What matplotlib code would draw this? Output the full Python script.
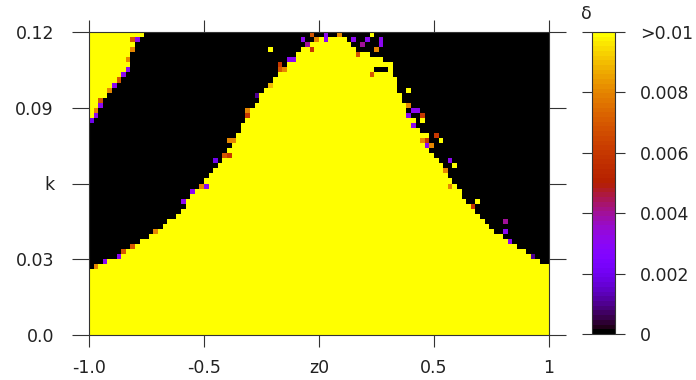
import numpy as np
import matplotlib
matplotlib.use('Agg')
import matplotlib.pyplot as plt
from matplotlib.colors import ListedColormap, Normalize

# ---- data ----
# upper boundary (k) of the big yellow hump, as function of z0
hump_z = [-1.0, -0.952, -0.878, -0.809, -0.748, -0.661, -0.604, -0.548, -0.496, -0.483,
          -0.430, -0.374, -0.330, -0.270, -0.213, -0.157, -0.126, -0.070, -0.026, 0.017,
          0.06, 0.10, 0.148, 0.209, 0.252, 0.309, 0.339, 0.352, 0.383, 0.426, 0.483,
          0.539, 0.600, 0.657, 0.743, 0.830, 0.904, 0.961, 1.0]
hump_k = [0.026, 0.0277, 0.0305, 0.0345, 0.0388, 0.0448, 0.0487, 0.0562, 0.0594, 0.0634,
          0.0689, 0.0768, 0.0832, 0.0927, 0.1006, 0.1057, 0.1097, 0.1137, 0.1156, 0.1176,
          0.1185, 0.118, 0.1137, 0.1117, 0.110, 0.108, 0.100, 0.0950, 0.0899, 0.0832, 0.0733,
          0.0653, 0.0586, 0.0507, 0.0428, 0.0364, 0.0325, 0.0289, 0.029]
# boundary (z) of the top-left yellow corner, as function of k
tri_k = [0.0848, 0.0899, 0.0950, 0.1006, 0.1069, 0.1137, 0.1188, 0.1200]
tri_z = [-1.0, -0.961, -0.917, -0.874, -0.830, -0.800, -0.770, -0.765]
# isolated coloured cells along the boundaries: (z0, k, delta)
edge_z = [-0.81, -0.79, -0.81, -0.83, -0.83, -0.85, -0.87, -0.89, -0.91, -0.95, -0.95, -0.97, -0.97, -0.99,
          -0.97, -0.93, -0.87, -0.85, -0.81, -0.71, -0.59, -0.55, -0.51, -0.49,
          -0.45, -0.41, -0.37, -0.31, -0.31, -0.27, -0.21, -0.17, -0.17, -0.13, -0.21, -0.07, -0.03, -0.05, -0.03, 0.03,
          -0.01, 0.03, 0.09, 0.15, 0.19, 0.23, 0.27, 0.17, 0.25, 0.21, 0.27,
          0.25, 0.27, 0.29, 0.39, 0.39, 0.41, 0.43,
          0.45, 0.45, 0.39, 0.41, 0.47, 0.51, 0.53, 0.45, 0.47, 0.47, 0.49, 0.57, 0.59, 0.53, 0.55, 0.57, 0.69, 0.67,
          0.81, 0.81, 0.83, 0.93, -0.11, -0.15, -0.39, -0.39, -0.51, 0.23]
edge_k = [0.117, 0.117, 0.113, 0.109, 0.105, 0.103, 0.101, 0.099, 0.097, 0.093, 0.091, 0.089, 0.087, 0.085,
          0.027, 0.029, 0.031, 0.033, 0.035, 0.041, 0.053, 0.057, 0.059, 0.059,
          0.069, 0.071, 0.077, 0.087, 0.089, 0.095, 0.099, 0.105, 0.107, 0.109, 0.113, 0.117, 0.113, 0.115, 0.119, 0.117,
          0.117, 0.119, 0.119, 0.117, 0.115, 0.119, 0.115, 0.111, 0.113, 0.117, 0.117,
          0.105, 0.105, 0.105, 0.097, 0.091, 0.089, 0.089,
          0.087, 0.085, 0.087, 0.083, 0.079, 0.079, 0.077, 0.077, 0.077, 0.075, 0.075, 0.069, 0.067, 0.067, 0.065, 0.059, 0.053, 0.051,
          0.045, 0.041, 0.037, 0.031, 0.109, 0.105, 0.077, 0.071, 0.059, 0.103]
edge_v = [0.007, 0.003, 0.008, 0.008, 0.003, 0.003, 0.007, 0.003, 0.008, 0.007, 0.003, 0.008, 0.003, 0.002,
          0.008, 0.003, 0.003, 0.007, 0.007, 0.008, 0.003, 0.003, 0.006, 0.003,
          0.002, 0.007, 0.008, 0.006, 0.008, 0.001, 0.009, 0.007, 0.006, 0.003, 0.012, 0.003, 0.006, 0.004, 0.007, 0.003,
          0.008, 0.003, 0.008, 0.003, 0.004, 0.012, 0.003, 0.007, 0.008, 0.003, 0.003,
          0.0, 0.0, 0.0, 0.012, 0.008, 0.003, 0.003,
          0.006, 0.012, 0.003, 0.003, 0.012, 0.006, 0.012, 0.008, 0.006, 0.003, 0.008, 0.003, 0.012, 0.012, 0.008, 0.008, 0.012, 0.006,
          0.004, 0.003, 0.003, 0.001, 0.003, 0.008, 0.008, 0.006, 0.008, 0.007]

x_ticks = [-1.0, -0.5, 0.0, 0.5, 1.0]
x_labels = ['-1.0', '-0.5', 'z0', '0.5', '1']
y_ticks = [0.0, 0.03, 0.06, 0.09, 0.12]
y_labels = ['0.0', '0.03', 'k', '0.09', '0.12']
cb_ticks = [0.0, 0.002, 0.004, 0.006, 0.008, 0.01]
cb_labels = ['0', '0.002', '0.004', '0.006', '0.008', '>0.01']

# ---- grid ----
z_edges = np.linspace(-1, 1, 101)
k_edges = np.linspace(0, 0.12, 61)
zc = 0.5 * (z_edges[:-1] + z_edges[1:])
kc = 0.5 * (k_edges[:-1] + k_edges[1:])
Z, K = np.meshgrid(zc, kc)
grid = np.where(K <= np.interp(Z, hump_z, hump_k), 0.012, 0.0)
corner = (K >= tri_k[0]) & (Z <= np.interp(K, tri_k, tri_z))
grid[corner] = 0.012
for z, k, v in zip(edge_z, edge_k, edge_v):
    i = int(round((z - zc[0]) / 0.02))
    j = int(round((k - kc[0]) / 0.002))
    if 0 <= i < len(zc) and 0 <= j < len(kc):
        grid[j, i] = v

# gnuplot default palette (rgbformulae 7,5,15)
x = np.linspace(0, 1, 64)
cols = np.stack([np.sqrt(x), x ** 3, np.clip(np.sin(2 * np.pi * x), 0, 1)], axis=1)
cmap = ListedColormap(cols)
norm = Normalize(vmin=0, vmax=0.01)

plt.rcParams['font.family'] = ['DejaVu Sans']
fs = 12.5
tc = '#222222'
fig = plt.figure(figsize=(6.96, 3.80), dpi=100)
ax = fig.add_axes([89 / 696, 1 - 335 / 380, 460 / 696, 303 / 380])
mesh = ax.pcolormesh(z_edges, k_edges, grid, cmap=cmap, norm=norm, shading='flat')
ax.set_xlim(-1, 1)
ax.set_ylim(0, 0.12)
ax.set_xticks(x_ticks)
ax.set_xticklabels(x_labels)
ax.set_yticks(y_ticks)
ax.set_yticklabels(y_labels)
ax.tick_params(axis='x', direction='out', top=True, bottom=True, length=8.5, width=0.8,
               pad=8.5, labelsize=fs, colors='#333333', labelcolor=tc)
ax.tick_params(axis='y', direction='out', left=True, right=True, length=12.2, width=0.8,
               pad=13, labelsize=fs, colors='#333333', labelcolor=tc)
for s in ax.spines.values():
    s.set_linewidth(0.8)
    s.set_color('#333333')

cax = fig.add_axes([592 / 696, 1 - 334 / 380, 23 / 696, 302 / 380])
cb = fig.colorbar(mesh, cax=cax, ticks=cb_ticks)
cb.set_ticklabels(cb_labels)
cb.outline.set_linewidth(0.8)
cb.outline.set_color('#333333')
cax.tick_params(axis='y', direction='out', left=True, right=True, length=7.2, width=0.8,
                pad=11, labelsize=fs, colors='#333333', labelcolor=tc)
fig.text(586 / 696, 1 - 14 / 380, 'δ', ha='center', va='center', fontsize=fs, color=tc)

fig.savefig('out.png', dpi=100)
